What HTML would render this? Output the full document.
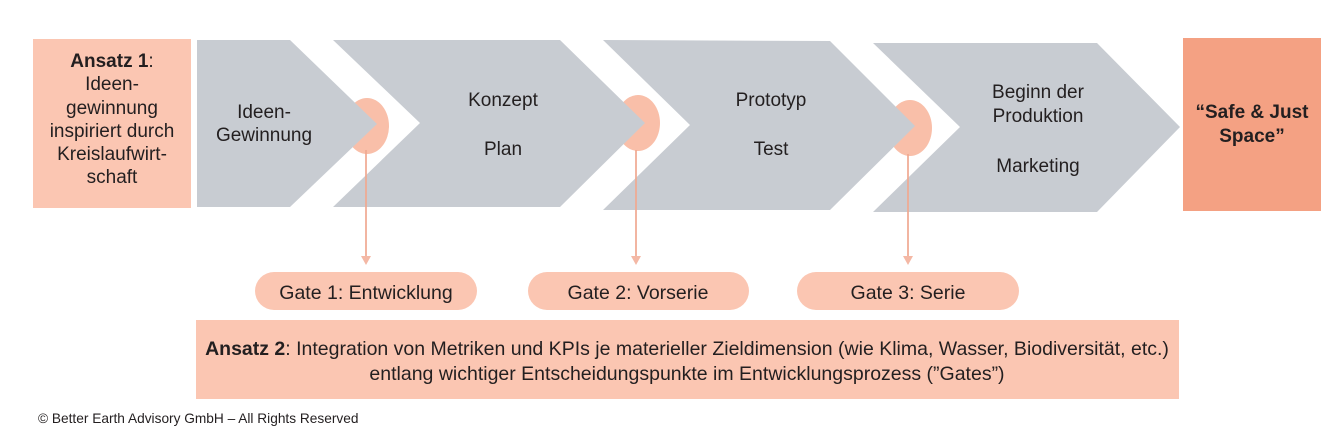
<!DOCTYPE html>
<html><head><meta charset="utf-8"><style>
html,body{margin:0;padding:0;background:#fff;width:1344px;height:432px;overflow:hidden}
svg text{font-family:"Liberation Sans",sans-serif;fill:#231f20}
</style></head><body>
<svg width="1344" height="432" viewBox="0 0 1344 432" xmlns="http://www.w3.org/2000/svg">
<rect x="33" y="39" width="158" height="169" fill="#fbc6b2"/>
<g font-size="19" text-anchor="middle">
<text x="112" y="67"><tspan font-weight="bold">Ansatz 1</tspan>:</text>
<text x="112" y="90">Ideen-</text>
<text x="112" y="114">gewinnung</text>
<text x="112" y="137">inspiriert durch</text>
<text x="112" y="160">Kreislaufwirt-</text>
<text x="112" y="183">schaft</text>
</g>
<g fill="#f9bfa9">
<ellipse cx="367" cy="126" rx="22" ry="28"/>
<ellipse cx="638" cy="123" rx="22" ry="28"/>
<ellipse cx="910" cy="128" rx="22" ry="28"/>
</g>
<g fill="#c8ccd2">
<polygon points="197,40 290,40 377,124 290,207 197,207"/>
<polygon points="333,40 560,40 645,123 560,207 333,207 420,123"/>
<polygon points="603,40 830,41 915,126 830,210 603,210 690,125"/>
<polygon points="873,43 1097,43 1180,127 1097,212 873,212 960,127"/>
</g>
<rect x="1183" y="38" width="138" height="173" fill="#f4a183"/>
<g stroke="#f0a890" stroke-width="2" stroke-opacity="0.85">
<line x1="366" y1="150" x2="366" y2="258"/>
<line x1="636" y1="150" x2="636" y2="258"/>
<line x1="908" y1="154" x2="908" y2="258"/>
</g>
<g fill="#f4b8a5">
<polygon points="361,256 371,256 366,265"/>
<polygon points="631,256 641,256 636,265"/>
<polygon points="903,256 913,256 908,265"/>
</g>
<g font-size="19" text-anchor="middle">
<text x="264" y="118">Ideen-</text>
<text x="264" y="141">Gewinnung</text>
<text x="503" y="106">Konzept</text>
<text x="503" y="155">Plan</text>
<text x="771" y="106">Prototyp</text>
<text x="771" y="155">Test</text>
<text x="1038" y="98">Beginn der</text>
<text x="1038" y="122">Produktion</text>
<text x="1038" y="172">Marketing</text>
<text x="1252" y="118" font-weight="bold">“Safe &amp; Just</text>
<text x="1252" y="142" font-weight="bold">Space”</text>
</g>
<g fill="#fbc6b2">
<rect x="255" y="272" width="222" height="38" rx="19"/>
<rect x="528" y="272" width="221" height="38" rx="19"/>
<rect x="797" y="272" width="222" height="38" rx="19"/>
<rect x="196" y="320" width="983" height="79"/>
</g>
<g font-size="19.5" text-anchor="middle">
<text x="366" y="299">Gate 1: Entwicklung</text>
<text x="638" y="299">Gate 2: Vorserie</text>
<text x="908" y="299">Gate 3: Serie</text>
<text x="687" y="355"><tspan font-weight="bold">Ansatz 2</tspan>: Integration von Metriken und KPIs je materieller Zieldimension (wie Klima, Wasser, Biodiversität, etc.)</text>
<text x="687" y="380">entlang wichtiger Entscheidungspunkte im Entwicklungsprozess (”Gates”)</text>
</g>
<text x="38" y="423" font-size="13.7">© Better Earth Advisory GmbH – All Rights Reserved</text>
</svg>
</body></html>
